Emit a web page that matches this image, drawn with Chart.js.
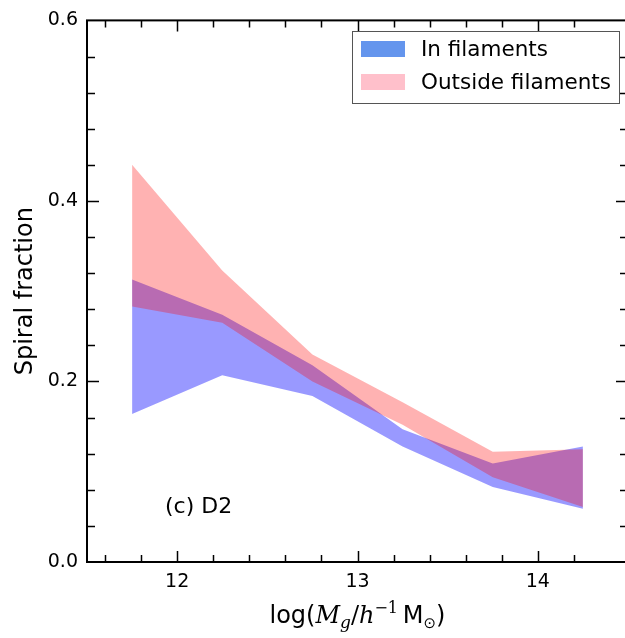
<!DOCTYPE html>
<html><head><meta charset="utf-8">
<script src="https://cdn.jsdelivr.net/npm/chart.js@4.4.0/dist/chart.umd.min.js"></script>
<style>
html,body{margin:0;padding:0;overflow:hidden;background:#fff;width:625px;height:638px}
#wrap{position:absolute;left:0;top:0;width:640px;height:638px}
</style>
</head><body><div id="wrap"><canvas id="c" width="640" height="638"></canvas></div>
<script>
// ---- data ----
const massBins = [11.75, 12.25, 12.75, 13.25, 13.75, 14.25];
const inLower  = [0.164, 0.207, 0.184, 0.128, 0.083, 0.059];
const inUpper  = [0.313, 0.274, 0.218, 0.147, 0.109, 0.128];
const outLower = [0.283, 0.265, 0.200, 0.152, 0.094, 0.061];
const outUpper = [0.440, 0.323, 0.230, 0.177, 0.122, 0.125];
const xTickValues = [12, 13, 14];
const yTickValues = [0.0, 0.2, 0.4, 0.6];
const seriesLabels = ['In filaments', 'Outside filaments'];
const panelLabel = '(c) D2';
const yTitle = 'Spiral fraction';

const legendColors = ['#6495ED', '#FFC0CB'];
const fillColors = ['rgba(0,0,255,0.4)', 'rgba(255,0,0,0.3)'];

const pts = (arr) => massBins.map((x, i) => ({x: x, y: arr[i]}));

const TICK_FONT = {family: 'DejaVu Sans', size: 19};

const framePlugin = {
  id: 'frame',
  afterDraw(chart) {
    const ctx = chart.ctx, ca = chart.chartArea;
    const xs = chart.scales.x, ys = chart.scales.y;
    ctx.save();
    ctx.strokeStyle = '#000';
    ctx.lineWidth = 1.5;
    ctx.beginPath();
    // x ticks (inward, bottom and top)
    for (let k = 58; k <= 71; k++) {
      const v = k / 5;
      const major = (k % 5 === 0);
      const L = major ? 11 : 7;
      const px = Math.round(xs.getPixelForValue(v)) + 0.5;
      ctx.moveTo(px, ca.bottom); ctx.lineTo(px, ca.bottom - L);
      ctx.moveTo(px, ca.top); ctx.lineTo(px, ca.top + L);
    }
    // y ticks (inward, left and right)
    for (let k = 1; k < 15; k++) {
      const v = k * 0.04;
      const major = (k % 5 === 0);
      const L = major ? 12 : 8;
      const py = Math.round(ys.getPixelForValue(v)) + 0.5;
      ctx.moveTo(ca.left, py); ctx.lineTo(ca.left + L, py);
      ctx.moveTo(ca.right, py); ctx.lineTo(ca.right - L, py);
    }
    ctx.stroke();
    ctx.lineWidth = 2;
    ctx.strokeRect(ca.left, ca.top, ca.right - ca.left, ca.bottom - ca.top);

    // legend
    ctx.fillStyle = '#fff';
    ctx.fillRect(352.5, 31.5, 267, 72);
    ctx.lineWidth = 1;
    ctx.strokeStyle = '#555';
    ctx.strokeRect(352.5, 31.5, 267, 72);
    ctx.font = '21.5px "DejaVu Sans"';
    ctx.textBaseline = 'middle';
    ctx.textAlign = 'left';
    const rows = [49, 82];
    seriesLabels.forEach((lab, i) => {
      ctx.fillStyle = legendColors[i];
      ctx.fillRect(361, rows[i] - 8, 44, 16);
      ctx.fillStyle = '#000';
      ctx.fillText(lab, 421, rows[i] + 1);
    });

    // panel label
    ctx.font = '22px "DejaVu Sans"';
    ctx.fillStyle = '#000';
    ctx.fillText(panelLabel, 165, 507);

    // x-axis title with math parts
    const parts = [
      {t: 'log(', f: '24px "DejaVu Sans"', dy: 0},
      {t: 'M', f: 'italic 24px "DejaVu Serif"', dy: 0},
      {t: 'g', f: 'italic 17px "DejaVu Serif"', dy: 5},
      {t: '/', f: '24px "DejaVu Serif"', dy: 0},
      {t: 'h', f: 'italic 24px "DejaVu Serif"', dy: 0},
      {t: '\u22121', f: '16px "DejaVu Serif"', dy: -10},
      {t: '\u2009M', f: '24px "DejaVu Sans"', dy: 0},
      {t: '\u2299', f: '15px "DejaVu Sans"', dy: 5},
      {t: ')', f: '24px "DejaVu Sans"', dy: 0}
    ];
    ctx.textBaseline = 'alphabetic';
    let total = 0;
    parts.forEach(p => { ctx.font = p.f; p.w = ctx.measureText(p.t).width; total += p.w; });
    let x = xs.getPixelForValue(13) - total / 2;
    const base = 623;
    parts.forEach(p => { ctx.font = p.f; ctx.fillText(p.t, x, base + p.dy); x += p.w; });
    ctx.restore();
  }
};

new Chart(document.getElementById('c'), {
  type: 'line',
  data: {
    datasets: [
      {label: seriesLabels[1] + ' lower', data: pts(outLower), borderWidth: 0, pointRadius: 0, fill: false, borderColor: 'rgba(0,0,0,0)'},
      {label: seriesLabels[1], data: pts(outUpper), borderWidth: 0, pointRadius: 0, fill: '-1', borderColor: 'rgba(0,0,0,0)', backgroundColor: fillColors[1]},
      {label: seriesLabels[0] + ' lower', data: pts(inLower), borderWidth: 0, pointRadius: 0, fill: false, borderColor: 'rgba(0,0,0,0)'},
      {label: seriesLabels[0], data: pts(inUpper), borderWidth: 0, pointRadius: 0, fill: '-1', borderColor: 'rgba(0,0,0,0)', backgroundColor: fillColors[0]}
    ]
  },
  options: {
    responsive: false,
    animation: false,
    devicePixelRatio: 1,
    layout: {padding: {top: 20, right: 12, left: 0, bottom: 0}},
    plugins: {legend: {display: false}, tooltip: {enabled: false}},
    elements: {line: {tension: 0}},
    scales: {
      x: {
        type: 'linear', min: 11.5, max: 14.5,
        afterFit(s) { s.height = 76; },
        afterBuildTicks(s) { s.ticks = xTickValues.map(v => ({value: v})); },
        grid: {display: false, drawTicks: false},
        border: {display: false},
        ticks: {font: TICK_FONT, color: '#000', padding: 9, maxRotation: 0, autoSkip: false,
                callback: v => String(v)}
      },
      y: {
        type: 'linear', min: 0, max: 0.6,
        afterFit(s) { s.width = 87; },
        afterBuildTicks(s) { s.ticks = yTickValues.map(v => ({value: v})); },
        grid: {display: false, drawTicks: false},
        border: {display: false},
        ticks: {font: TICK_FONT, color: '#000', padding: 9, autoSkip: false,
                callback: v => Number(v).toFixed(1)},
        title: {display: true, text: yTitle, color: '#000',
                font: {family: 'DejaVu Sans', size: 24}, padding: {top: 11, bottom: 0}}
      }
    }
  },
  plugins: [framePlugin]
});
</script>
</body></html>
